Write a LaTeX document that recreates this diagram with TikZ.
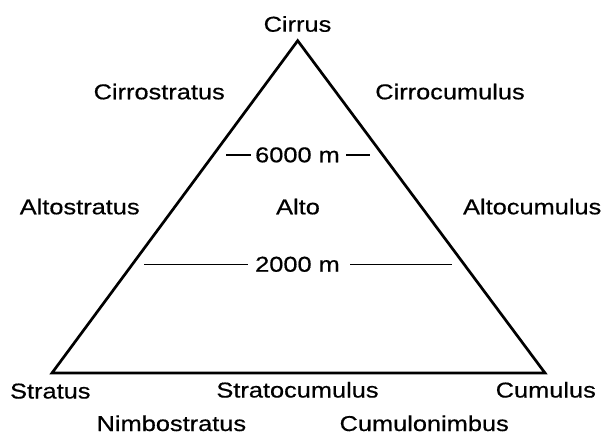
\documentclass[tikz,border=0pt]{standalone}
\usepackage{fontspec}
\usepackage{graphicx}
\setmainfont{Liberation Sans}
\newfontfamily\labfont[FakeBold=0.5]{Liberation Sans}
\newcommand{\lbl}[1]{\scalebox{1.18}[1]{#1}}
\tikzset{
  lab/.style={anchor=base, inner sep=0pt, font=\labfont\fontsize{21.5bp}{25bp}\selectfont},
  edge/.style={line width=2.7bp, line join=miter},
  level/.style={line width=1.1bp}
}
\begin{document}
\begin{tikzpicture}[x=1bp, y=-1bp]
\useasboundingbox (0,0) rectangle (603,436);
% triangle
\coordinate (top) at (297.7,40.7);
\coordinate (bl) at (52,373);
\coordinate (br) at (545,373);
\draw[edge] (top) -- (br) -- (bl) -- cycle;
% level lines
\coordinate (a1) at (226,155);
\coordinate (a2) at (250.7,155);
\coordinate (a3) at (346,155);
\coordinate (a4) at (370,155);
\coordinate (b1) at (144,264.3);
\coordinate (b2) at (248.3,264.3);
\coordinate (b3) at (350,264.3);
\coordinate (b4) at (451.7,264.3);
\draw[level] (a1) -- (a2);
\draw[level] (a3) -- (a4);
\draw[level] (b1) -- (b2);
\draw[level] (b3) -- (b4);
% labels
\node[lab] (cirrus) at (297.5,31.7) {\lbl{Cirrus}};
\node[lab] (cirrostratus) at (159.2,99.3) {\lbl{Cirrostratus}};
\node[lab] (cirrocumulus) at (450,99.3) {\lbl{Cirrocumulus}};
\node[lab] (h6000) at (297.5,162.3) {\lbl{6000 m}};
\node[lab] (altostratus) at (79.7,214.3) {\lbl{Altostratus}};
\node[lab] (alto) at (298,214.3) {\lbl{Alto}};
\node[lab] (altocumulus) at (532.2,214.3) {\lbl{Altocumulus}};
\node[lab] (h2000) at (297.5,271.7) {\lbl{2000 m}};
\node[lab] (stratus) at (50.3,398.5) {\lbl{Stratus}};
\node[lab] (stratocumulus) at (297.5,397.5) {\lbl{Stratocumulus}};
\node[lab] (cumulus) at (545.8,397.5) {\lbl{Cumulus}};
\node[lab] (nimbostratus) at (171.4,431) {\lbl{Nimbostratus}};
\node[lab] (cumulonimbus) at (424.2,431) {\lbl{Cumulonimbus}};
\end{tikzpicture}
\end{document}
